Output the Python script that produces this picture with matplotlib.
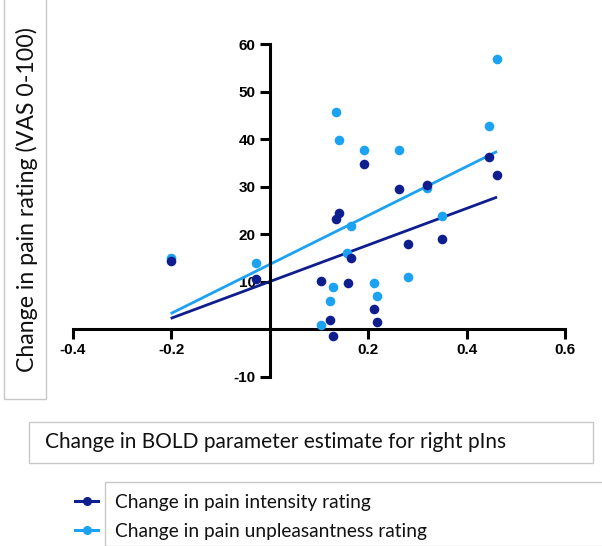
import numpy as np
import matplotlib
matplotlib.use('Agg')
import matplotlib.pyplot as plt
from matplotlib.patches import Rectangle
from matplotlib.lines import Line2D

# BOLD change (right pIns) vs change in pain ratings, one point per subject
bold = [-0.201, -0.027, 0.104, 0.122, 0.129, 0.134, 0.141, 0.159, 0.165,
        0.191, 0.212, 0.219, 0.263, 0.282, 0.319, 0.351, 0.446, 0.462]
intensity = [14.4, 10.5, 10.2, 2.0, -1.4, 23.2, 24.4, 9.8, 14.9,
             34.7, 4.2, 1.6, 29.5, 18.0, 30.4, 18.9, 36.3, 32.5]
bold_unp = [-0.201, -0.027, 0.104, 0.122, 0.129, 0.134, 0.141, 0.157, 0.165,
            0.191, 0.212, 0.219, 0.263, 0.282, 0.319, 0.351, 0.446, 0.462]
unpleasant = [14.9, 13.9, 0.9, 6.0, 8.9, 45.8, 39.8, 16.0, 21.8,
              37.8, 9.8, 6.9, 37.8, 10.9, 29.7, 23.8, 42.7, 56.8]

xticks = [-0.4, -0.2, 0.2, 0.4, 0.6]
yticks = [-10, 10, 20, 30, 40, 50, 60]

dark = '#0f1e8e'
light = '#1ba2f2'

fig = plt.figure(figsize=(6.02, 5.46), dpi=100)
W, H = 602.0, 546.0
ax = fig.add_axes([72.7 / W, 1 - 376.7 / H, (565 - 72.7) / W, (376.7 - 44.3) / H])

for xs, ys, c in [(bold_unp, unpleasant, light), (bold, intensity, dark)]:
    xs = np.array(xs)
    ys = np.array(ys)
    k, b = np.polyfit(xs, ys, 1)
    xx = np.array([xs.min(), xs.max()])
    ax.plot(xx, k * xx + b, color=c, lw=2.0, zorder=2, solid_capstyle='butt')

ax.scatter(bold_unp, unpleasant, s=48, color=light, zorder=3, linewidths=0)
ax.scatter(bold, intensity, s=48, color=dark, zorder=4, linewidths=0)

ax.set_xlim(-0.4, 0.6)
ax.set_ylim(-10, 60)
ax.spines['left'].set_position(('data', 0))
ax.spines['bottom'].set_position(('data', 0))
ax.spines['top'].set_visible(False)
ax.spines['right'].set_visible(False)
for s in ('left', 'bottom'):
    ax.spines[s].set_linewidth(2.2)
ax.set_xticks(xticks)
ax.set_xticklabels(['-0.4', '-0.2', '0.2', '0.4', '0.6'])
ax.set_yticks(yticks)
ax.set_yticklabels([str(v) for v in yticks])
ax.tick_params(direction='out', length=7, width=2.2, pad=3)
for lab in ax.get_xticklabels() + ax.get_yticklabels():
    lab.set_fontfamily('Liberation Sans')
    lab.set_fontweight('bold')
    lab.set_fontsize(11)
ax.patch.set_visible(False)

# boxed axis titles
box = dict(facecolor='none', edgecolor='#c8c8c8', lw=1.0)
fig.add_artist(Rectangle((4 / W, 1 - 399 / H), 42 / W, 410 / H,
                         transform=fig.transFigure, **box))
fig.text(27 / W, 1 - 200 / H, 'Change in pain rating (VAS 0-100)',
         rotation=90, ha='center', va='center', fontsize=16.7, family='Lato',
         color='#111111')

fig.add_artist(Rectangle((29 / W, 1 - 463 / H), 564 / W, 41.5 / H,
                         transform=fig.transFigure, **box))
fig.text(45 / W, 1 - 442.5 / H, 'Change in BOLD parameter estimate for right pIns',
         ha='left', va='center', fontsize=15, family='Lato', color='#111111')

fig.add_artist(Rectangle((105 / W, 0), 500 / W, 64 / H,
                         transform=fig.transFigure, **box))
handles = [Line2D([], [], color=dark, lw=2.2, marker='o', ms=5.5),
           Line2D([], [], color=light, lw=2.2, marker='o', ms=5.5)]
leg = fig.legend(handles, ['Change in pain intensity rating',
                           'Change in pain unpleasantness rating'],
                 loc='upper left', bbox_to_anchor=(75 / W, 1 - 494 / H),
                 frameon=False, handlelength=1.2, handletextpad=0.89,
                 labelspacing=0.63, borderpad=0, borderaxespad=0,
                 prop={'family': 'Lato', 'size': 13.8})
for t in leg.get_texts():
    t.set_color('#111111')

fig.savefig('out.png', dpi=100)
